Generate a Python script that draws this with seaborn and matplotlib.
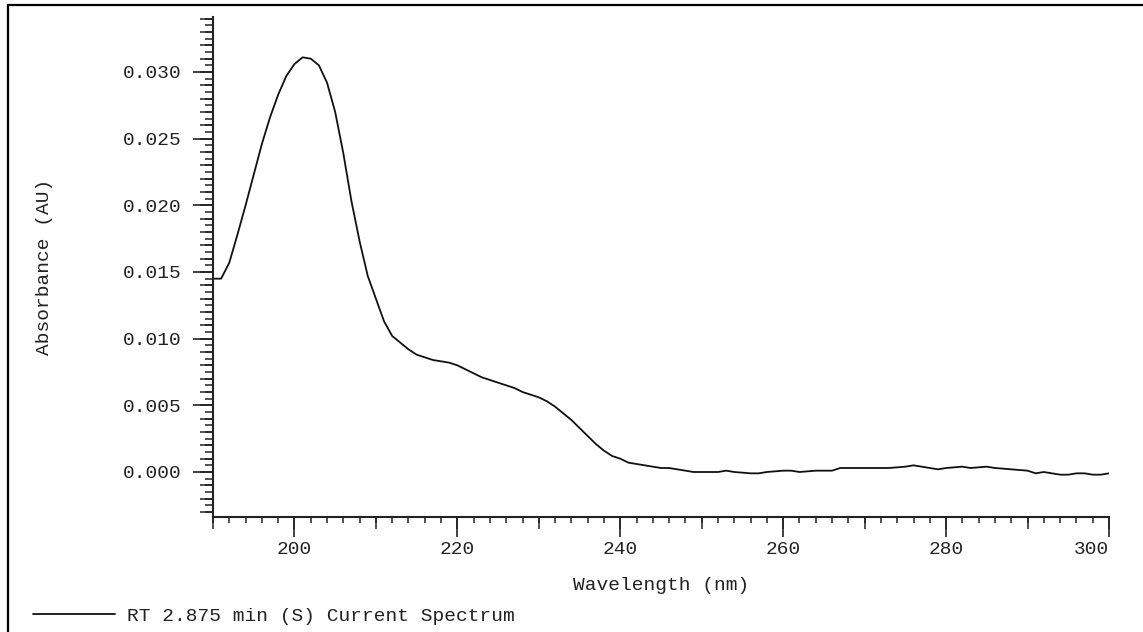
import matplotlib
matplotlib.use("Agg")
import matplotlib.pyplot as plt
import seaborn as sns
import pandas as pd
from matplotlib.ticker import MultipleLocator, FormatStrFormatter, NullFormatter
from matplotlib.patches import Rectangle

# spectrum
wavelength = [190, 191, 192, 193, 194, 195, 196, 197, 198, 199,
              200, 201, 202, 203, 204, 205, 206, 207, 208, 209,
              210, 211, 212, 213, 214, 215, 216, 217, 218, 219,
              220, 221, 222, 223, 224, 225, 226, 227, 228, 229,
              230, 231, 232, 233, 234, 235, 236, 237, 238, 239,
              240, 241, 242, 243, 244, 245, 246, 247, 248, 249,
              250, 252, 253, 254, 256, 257, 258, 260, 261, 262,
              264, 266, 267, 270, 273, 275, 276, 277, 279, 280,
              282, 283, 285, 286, 288, 290, 291, 292, 294, 295,
              296, 297, 298, 299, 300]
absorbance = [0.0145, 0.0145, 0.0157, 0.0178, 0.0200, 0.0223, 0.0246, 0.0266, 0.0283, 0.0297,
              0.0306, 0.0311, 0.0310, 0.0305, 0.0292, 0.0270, 0.0239, 0.0203, 0.0173, 0.0147,
              0.0130, 0.0113, 0.0102, 0.0097, 0.0092, 0.0088, 0.0086, 0.0084, 0.0083, 0.0082,
              0.0080, 0.0077, 0.0074, 0.0071, 0.0069, 0.0067, 0.0065, 0.0063, 0.0060, 0.0058,
              0.0056, 0.0053, 0.0049, 0.0044, 0.0039, 0.0033, 0.0027, 0.0021, 0.0016, 0.0012,
              0.0010, 0.0007, 0.0006, 0.0005, 0.0004, 0.0003, 0.0003, 0.0002, 0.0001, 0.0000,
              0.0000, 0.0000, 0.0001, 0.0000, -0.0001, -0.0001, 0.0000, 0.0001, 0.0001, 0.0000,
              0.0001, 0.0001, 0.0003, 0.0003, 0.0003, 0.0004, 0.0005, 0.0004, 0.0002, 0.0003,
              0.0004, 0.0003, 0.0004, 0.0003, 0.0002, 0.0001, -0.0001, 0.0000, -0.0002, -0.0002,
              -0.0001, -0.0001, -0.0002, -0.0002, -0.0001]
series_label = "RT 2.875 min (S) Current Spectrum"

df = pd.DataFrame({"Wavelength": wavelength, "Absorbance": absorbance})

sns.set_style("ticks")
plt.rcParams["font.family"] = ["Liberation Mono", "DejaVu Sans Mono"]
txt = "#222222"
fs = 14

W, H = 1143, 632
fig = plt.figure(figsize=(W / 100, H / 100), dpi=100)
ax = fig.add_axes([213 / W, 1 - 517 / H, (1109 - 213) / W, (517 - 17) / H])

sns.lineplot(data=df, x="Wavelength", y="Absorbance", color="#111111",
             linewidth=1.3, label=series_label, ax=ax)

ax.set_xlim(190, 300)
ax.set_ylim(-0.003375, 0.034125)

for s in ["top", "right"]:
    ax.spines[s].set_visible(False)
for s in ["left", "bottom"]:
    ax.spines[s].set_linewidth(1.5)
    ax.spines[s].set_color("#222222")

ax.xaxis.set_major_locator(MultipleLocator(20))
ax.xaxis.set_minor_locator(MultipleLocator(2))
ax.yaxis.set_major_locator(MultipleLocator(0.005))
ax.yaxis.set_minor_locator(MultipleLocator(0.0005))
ax.yaxis.set_major_formatter(FormatStrFormatter("%.3f"))

ax.tick_params(axis="both", which="major", length=14.4, width=1.2, color="#222222",
               labelsize=fs, labelcolor=txt)
ax.tick_params(axis="x", which="major", pad=3)
ax.tick_params(axis="y", which="major", pad=8)
ax.tick_params(axis="x", which="minor", length=4.3, width=1.1, color="#222222")
ax.tick_params(axis="y", which="minor", length=5.8, width=1.1, color="#222222")

# medium ticks (every 10 nm / every 0.001 AU)
secx = ax.secondary_xaxis("bottom")
secx.xaxis.set_major_locator(MultipleLocator(10))
secx.xaxis.set_minor_locator(MultipleLocator(1000))
secx.xaxis.set_major_formatter(NullFormatter())
secx.tick_params(axis="x", which="major", length=8.6, width=1.1, color="#222222")
secx.spines["bottom"].set_visible(False)

secy = ax.secondary_yaxis("left")
secy.yaxis.set_major_locator(MultipleLocator(0.001))
secy.yaxis.set_minor_locator(MultipleLocator(1000))
secy.yaxis.set_major_formatter(NullFormatter())
secy.tick_params(axis="y", which="major", length=9.4, width=1.1, color="#222222")
secy.spines["left"].set_visible(False)

# the last x label sits left of its tick, inside the frame
fig.canvas.draw()
for lab in ax.get_xticklabels():
    if lab.get_text() == "300":
        lab.set_horizontalalignment("right")

ax.set_xlabel("Wavelength (nm)", fontsize=fs, color=txt, va="center")
ax.xaxis.set_label_coords(0.5, (517 - 585) / 500)
ax.set_ylabel("Absorbance (AU)", fontsize=fs, color=txt, va="center")
ax.yaxis.set_label_coords((45 - 213) / 896, 0.5)

ax.legend(loc="center left", bbox_to_anchor=(33 / W, 1 - 616 / H),
          bbox_transform=fig.transFigure, frameon=False, fontsize=fs,
          handlelength=4.2, handletextpad=0.65, borderpad=0, borderaxespad=0,
          labelcolor=txt)

# outer frame of the printout
fig.patches.append(Rectangle((8 / W, -0.2), 1.2, 1.2 - 5 / H, transform=fig.transFigure,
                             fill=False, edgecolor="black", linewidth=1.6, clip_on=False))

fig.savefig("out.png", dpi=100)
